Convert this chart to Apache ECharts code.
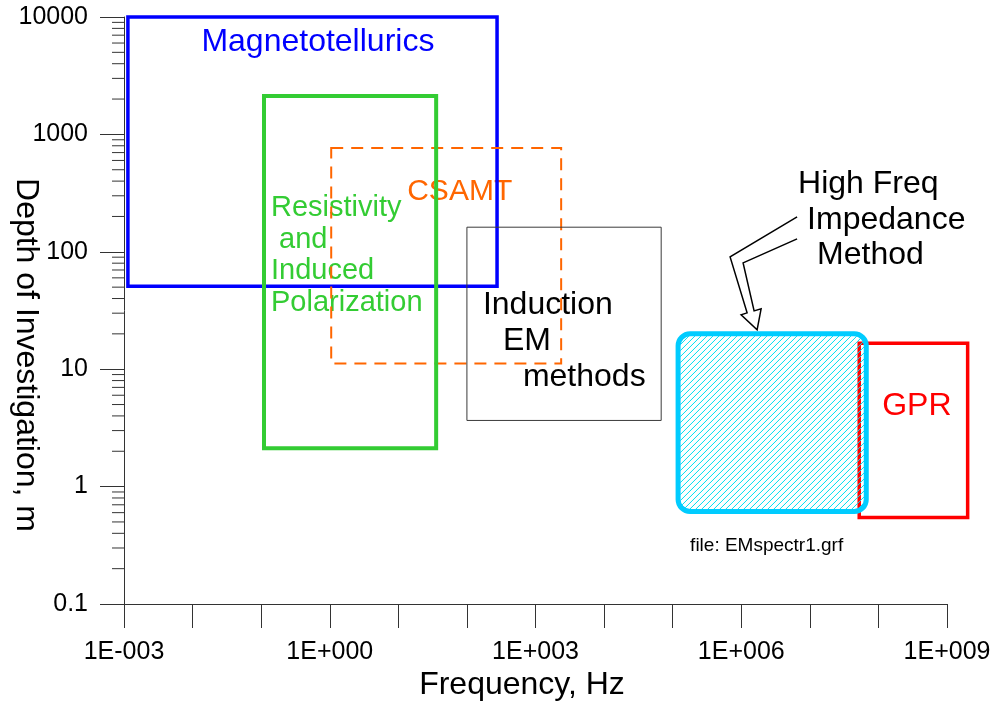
<!DOCTYPE html>
<html><head><meta charset="utf-8">
<script src="https://cdn.jsdelivr.net/npm/echarts@6/dist/echarts.min.js"></script>
<style>html,body{margin:0;padding:0;background:#fff}#c{width:997px;height:708px}</style>
</head><body><div id="c"></div>
<script>
// ---------------- data ----------------
const methods   = ['Magnetotellurics', 'CSAMT', 'Resistivity and Induced Polarization', 'Induction EM methods', 'GPR', 'High Freq Impedance Method'];
const freqLow   = [0.00114, 1.05, 0.11, 100, 5.25e7, 1.2e5];      // Hz
const freqHigh  = [275, 2366, 35.6, 68000, 2e9, 6.65e7];          // Hz
const depthLow  = [51, 11.2, 2.12, 3.66, 0.546, 0.615];            // m
const depthHigh = [10000, 764, 2120, 162, 16.6, 20];               // m
const xTickLabels = {'-3': '1E-003', '0': '1E+000', '3': '1E+003', '6': '1E+006', '9': '1E+009'};
const yTickLabels = ['0.1', '1', '10', '100', '1000', '10000'];
const minorMultipliers = [2, 3, 4, 5, 6, 7, 8, 9];
const fileNote = 'file: EMspectr1.grf';

// ---------------- styles ----------------
const FONT = '"Liberation Sans", Arial, sans-serif';
const boxStyles = [
  {stroke: '#0000ff', lineWidth: 3.5, textColor: '#0000ff',
   lines: [{t: 'Magnetotellurics', dx: 190, dy: 25, size: 32, align: 'center'}]},
  {stroke: '#ff6600', lineWidth: 2, dash: [12, 8], textColor: '#ff6600',
   lines: [{t: 'CSAMT', dx: 76, dy: 44, size: 30}]},
  {stroke: '#33cc33', lineWidth: 4, textColor: '#33cc33',
   lines: [{t: 'Resistivity', dx: 7, dy: 112, size: 29}, {t: ' and', dx: 7, dy: 144, size: 29},
           {t: 'Induced', dx: 7, dy: 175, size: 29}, {t: 'Polarization', dx: 7, dy: 207, size: 29}]},
  {stroke: '#3a3a3a', lineWidth: 1, textColor: '#000',
   lines: [{t: 'Induction', dx: 16, dy: 78, size: 32}, {t: 'EM', dx: 36, dy: 114, size: 32},
           {t: 'methods', dx: 56, dy: 150, size: 32}]},
  {stroke: '#ff0000', lineWidth: 3.5, textColor: '#ff0000',
   lines: [{t: 'GPR', dx: 23, dy: 63, size: 32}]},
  {stroke: '#00ccff', lineWidth: 5, radius: 12, hatch: {color: '#00e0f0', step: 6, width: 1}, textColor: '#000',
   lines: [{t: 'High Freq', dx: 120, dy: -150, size: 32}, {t: 'Impedance', dx: 129, dy: -114, size: 32},
           {t: 'Method', dx: 139, dy: -79, size: 32}, {t: fileNote, dx: 12, dy: 212, size: 19}],
   arrow: [[119, -117], [52, -77], [69, -21], [63, -19], [79, -4], [83, -25], [76, -23], [65, -71], [119, -95]]}
];

const boxData = methods.map((m, i) => [freqLow[i], freqHigh[i], depthLow[i], depthHigh[i]]);
const minorData = [];
for (let k = -1; k <= 3; k++) minorMultipliers.forEach(m => minorData.push([0.001, m * Math.pow(10, k)]));

// diagonal hatch lines inside a rounded rectangle (pixel space)
function hatchLines(x0, y0, x1, y1, r, h) {
  const inset = 2, ax0 = x0 + inset, ay0 = y0 + inset, ax1 = x1 - inset, ay1 = y1 - inset;
  const rr = Math.max(0, r - inset);
  const inside = (x, y) => {
    const cx = Math.min(Math.max(x, ax0 + rr), ax1 - rr);
    const cy = Math.min(Math.max(y, ay0 + rr), ay1 - rr);
    return (x - cx) * (x - cx) + (y - cy) * (y - cy) <= rr * rr + 0.01;
  };
  const out = [];
  for (let c = ax0 + ay0 + h.step / 2; c < ax1 + ay1; c += h.step) {
    let sx = Math.max(ax0, c - ay1), ex = Math.min(ax1, c - ay0);
    if (ex <= sx) continue;
    while (sx < ex && !inside(sx, c - sx)) sx += 0.25;
    while (ex > sx && !inside(ex, c - ex)) ex -= 0.25;
    if (ex - sx < 0.5) continue;
    out.push({type: 'line', shape: {x1: sx, y1: c - sx, x2: ex, y2: c - ex},
              style: {stroke: h.color, lineWidth: h.width}});
  }
  return out;
}

function boxRender(params, api) {
  const i = params.dataIndex, st = boxStyles[i];
  const p0 = api.coord([api.value(0), api.value(3)]);
  const p1 = api.coord([api.value(1), api.value(2)]);
  const children = [];
  if (st.hatch) children.push(...hatchLines(p0[0], p0[1], p1[0], p1[1], st.radius || 0, st.hatch));
  children.push({
    type: 'rect',
    shape: {x: p0[0], y: p0[1], width: p1[0] - p0[0], height: p1[1] - p0[1], r: st.radius || 0},
    style: {fill: null, stroke: st.stroke, lineWidth: st.lineWidth, lineDash: st.dash || null}
  });
  return {type: 'group', children};
}
function labelRender(params, api) {
  const i = params.dataIndex, st = boxStyles[i];
  const p0 = api.coord([api.value(0), api.value(3)]);
  const children = st.lines.map(l => ({
    type: 'text', x: p0[0] + l.dx, y: p0[1] + l.dy,
    style: {text: l.t, fill: st.textColor, fontSize: l.size, fontFamily: FONT,
            align: l.align || 'left', verticalAlign: 'middle'}
  }));
  if (st.arrow) {
    children.push({type: 'polyline',
      shape: {points: st.arrow.map(a => [p0[0] + a[0], p0[1] + a[1]])},
      style: {stroke: '#000', lineWidth: 1.5, fill: null}});
  }
  return {type: 'group', children};
}
function minorRender(params, api) {
  const p = api.coord([api.value(0), api.value(1)]);
  return {type: 'line', shape: {x1: p[0] - 12, y1: p[1], x2: p[0], y2: p[1]},
          style: {stroke: '#333', lineWidth: 1}};
}

const chart = echarts.init(document.getElementById('c'), null, {renderer: 'canvas'});
chart.setOption({
  animation: false,
  backgroundColor: '#fff',
  grid: {left: 124, right: 50, top: 17, bottom: 104, containLabel: false, outerBoundsMode: 'none'},
  xAxis: {
    type: 'log', logBase: 10, min: 0.001, max: 1e9, interval: 1, splitNumber: 12,
    axisLine: {show: true, onZero: false, lineStyle: {color: '#333', width: 1}},
    axisTick: {show: true, inside: false, length: 24, lineStyle: {color: '#333'}},
    minorTick: {show: false},
    splitLine: {show: false},
    axisLabel: {interval: 0, margin: 36, fontSize: 25, color: '#000', fontFamily: FONT,
      formatter: v => xTickLabels[String(Math.round(Math.log10(v)))] || ''}
  },
  yAxis: {
    type: 'log', logBase: 10, min: 0.1, max: 10000, interval: 1, splitNumber: 5,
    axisLine: {show: true, onZero: false, lineStyle: {color: '#333', width: 1}},
    axisTick: {show: true, inside: false, length: 24, lineStyle: {color: '#333'}},
    minorTick: {show: false},
    splitLine: {show: false},
    axisLabel: {interval: 0, margin: 36, fontSize: 25, color: '#000', fontFamily: FONT,
      formatter: v => yTickLabels[Math.round(Math.log10(v)) + 1] || ''}
  },
  graphic: [
    {type: 'text', x: 522, y: 685, style: {text: 'Frequency, Hz', fontSize: 32, fontFamily: FONT, fill: '#000', align: 'center', verticalAlign: 'middle'}},
    {type: 'text', x: 26, y: 355, rotation: -Math.PI / 2, style: {text: 'Depth of Investigation, m', fontSize: 32, fontFamily: FONT, fill: '#000', align: 'center', verticalAlign: 'middle'}}
  ],
  series: [
    {type: 'custom', name: 'labels', z: 1, clip: false, silent: true, data: boxData,
     encode: {x: [0, 1], y: [2, 3]}, renderItem: labelRender},
    {type: 'custom', name: 'methods', z: 2, clip: false, silent: true, data: boxData,
     encode: {x: [0, 1], y: [2, 3]}, renderItem: boxRender},
    {type: 'custom', name: 'minorTicks', z: 3, clip: false, silent: true, data: minorData,
     encode: {x: 0, y: 1}, renderItem: minorRender}
  ]
});
</script></body></html>
